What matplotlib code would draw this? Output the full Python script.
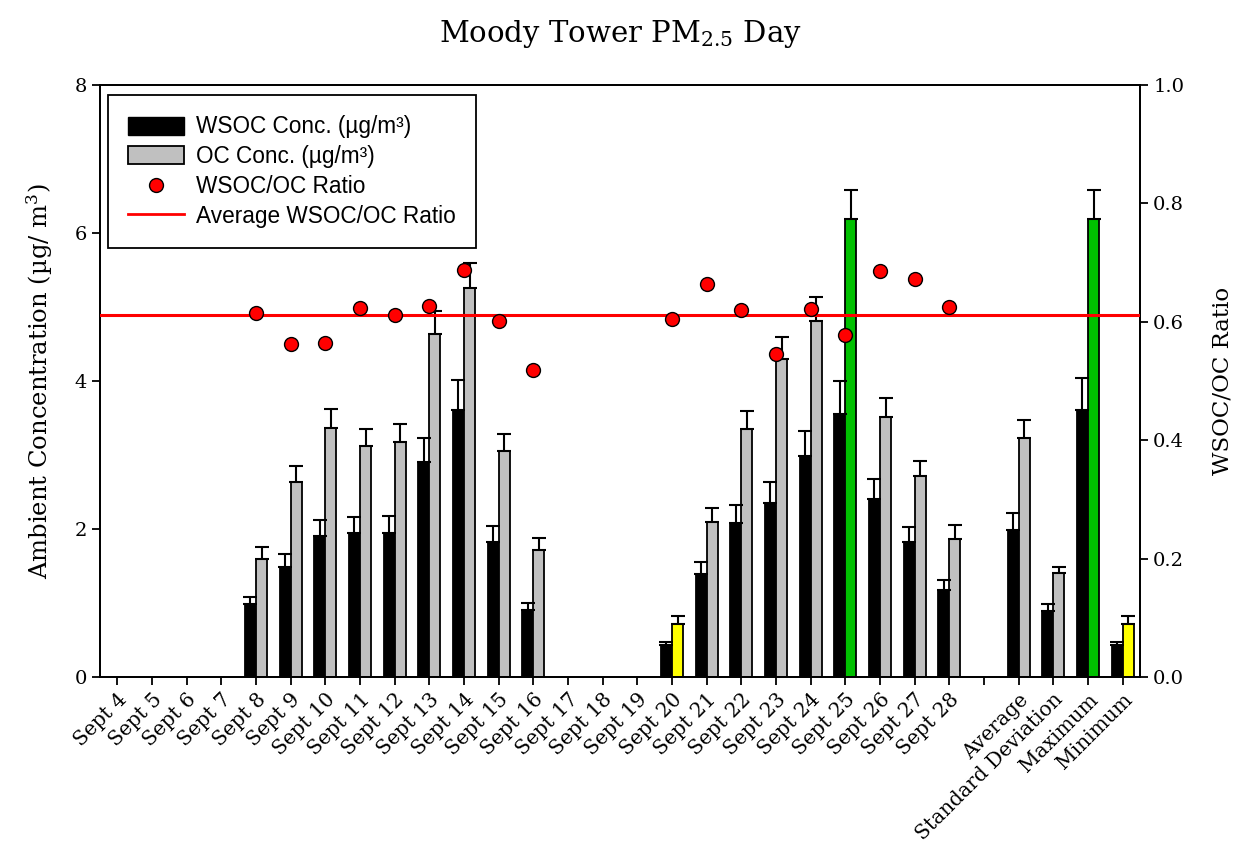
import numpy as np
import matplotlib
matplotlib.use('Agg')
import matplotlib.pyplot as plt
from matplotlib.patches import Patch
from matplotlib.lines import Line2D

plt.rcParams['font.family'] = ['DejaVu Serif']
plt.rcParams['mathtext.fontset'] = 'dejavuserif'

# --- data --- #
labels = ['Sept 4', 'Sept 5', 'Sept 6', 'Sept 7', 'Sept 8', 'Sept 9', 'Sept 10',
          'Sept 11', 'Sept 12', 'Sept 13', 'Sept 14', 'Sept 15', 'Sept 16',
          'Sept 17', 'Sept 18', 'Sept 19', 'Sept 20', 'Sept 21', 'Sept 22',
          'Sept 23', 'Sept 24', 'Sept 25', 'Sept 26', 'Sept 27', 'Sept 28',
          '', 'Average', 'Standard Deviation', 'Maximum', 'Minimum']

nan = np.nan
wsoc = [nan, nan, nan, nan, 0.98, 1.49, 1.90, 1.94, 1.95, 2.90, 3.61, 1.83, 0.90,
        nan, nan, nan, 0.43, 1.39, 2.08, 2.35, 2.99, 3.56, 2.41, 1.82, 1.17,
        nan, 1.99, 0.89, 3.61, 0.43]
wsoc_err = [nan, nan, nan, nan, 0.10, 0.17, 0.22, 0.22, 0.22, 0.33, 0.40, 0.21, 0.10,
            nan, nan, nan, 0.045, 0.16, 0.24, 0.28, 0.34, 0.44, 0.27, 0.21, 0.14,
            nan, 0.23, 0.10, 0.43, 0.045]
oc = [nan, nan, nan, nan, 1.59, 2.64, 3.37, 3.12, 3.18, 4.63, 5.25, 3.05, 1.72,
      nan, nan, nan, 0.71, 2.10, 3.35, 4.30, 4.81, 6.19, 3.51, 2.71, 1.87,
      nan, 3.23, 1.41, 6.19, 0.71]
oc_err = [nan, nan, nan, nan, 0.16, 0.21, 0.25, 0.23, 0.24, 0.31, 0.35, 0.24, 0.16,
          nan, nan, nan, 0.12, 0.18, 0.25, 0.29, 0.32, 0.39, 0.26, 0.21, 0.18,
          nan, 0.24, 0.07, 0.39, 0.12]
ratio = [nan, nan, nan, nan, 0.615, 0.563, 0.564, 0.623, 0.611, 0.627, 0.688, 0.602, 0.519,
         nan, nan, nan, 0.604, 0.664, 0.620, 0.546, 0.622, 0.577, 0.686, 0.672, 0.625,
         nan, nan, nan, nan, nan]
avg_ratio = 0.611

# OC bar colours: min day / min yellow, max day / max green
oc_colors = ['#C0C0C0'] * len(labels)
for i in (16, 29):
    oc_colors[i] = '#FFFF00'
for i in (21, 28):
    oc_colors[i] = '#00C000'

# --- plot --- #
fig = plt.figure(figsize=(12.44, 8.44), dpi=100)
ax = fig.add_axes([0.0804, 0.1979, 0.8360, 0.7014])
ax2 = ax.twinx()

x = np.arange(len(labels))
w = 0.32
err_kw = dict(ecolor='black', elinewidth=1.5, capsize=5, capthick=1.5)
zeros = np.zeros(len(labels))

ax.bar(x - w / 2, wsoc, w, color='black', edgecolor='black', linewidth=1.3,
       yerr=[zeros, wsoc_err], error_kw=err_kw, zorder=2)
ax.bar(x + w / 2, oc, w, color=oc_colors, edgecolor='black', linewidth=1.3,
       yerr=[zeros, oc_err], error_kw=err_kw, zorder=2)

ax2.axhline(avg_ratio, color='red', lw=2.2, zorder=3)
ax2.plot(x, ratio, 'o', color='red', markeredgecolor='black', markeredgewidth=1,
         markersize=10, zorder=4)

ax.set_xlim(-0.5, 29.5)
ax.set_ylim(0, 8)
ax.set_yticks([0, 2, 4, 6, 8])
ax2.set_ylim(0, 1)
ax2.set_yticks(np.arange(0, 1.01, 0.2))
ax2.set_yticklabels(['%.1f' % v for v in np.arange(0, 1.01, 0.2)])

ax.set_xticks(x)
ax.set_xticklabels(labels, rotation=45, ha='right', rotation_mode='anchor',
                   fontsize=14.5)
ax.tick_params(axis='y', labelsize=14)
ax2.tick_params(axis='y', labelsize=14)
for a in (ax, ax2):
    a.tick_params(direction='out', length=6, width=1.3)
    for s in a.spines.values():
        s.set_linewidth(1.3)

ax.set_ylabel('Ambient Concentration (µg/ m$^3$)', fontsize=17.5, labelpad=14)
ax2.set_ylabel('WSOC/OC Ratio', fontsize=16.5, labelpad=20)
ax.set_title('Moody Tower PM$_{2.5}$ Day', fontsize=21, pad=31)

handles = [
    Patch(facecolor='black', edgecolor='black'),
    Patch(facecolor='#C0C0C0', edgecolor='black', linewidth=1.3),
    Line2D([], [], marker='o', ls='none', color='red', markeredgecolor='black',
           markersize=10),
    Line2D([], [], color='red', lw=2),
]
names = ['WSOC Conc. (µg/m³)', 'OC Conc. (µg/m³)', 'WSOC/OC Ratio',
         'Average WSOC/OC Ratio']
leg = ax2.legend(handles, names, loc='upper left', bbox_to_anchor=(0.0077, 0.983),
                 borderaxespad=0, fancybox=False, edgecolor='black', framealpha=1,
                 prop={'family': 'Liberation Sans', 'size': 16.3},
                 handlelength=2.45, handleheight=0.85, handletextpad=0.55,
                 labelspacing=0.3, borderpad=0.9)
leg.get_frame().set_linewidth(1.3)

fig.savefig('out.png', dpi=100)
